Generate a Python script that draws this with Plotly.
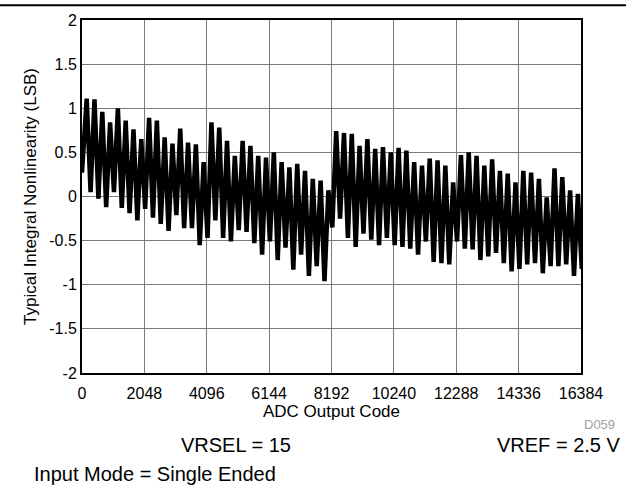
import plotly.graph_objects as go

# ADC output code ticks
tick_codes = [0, 2048, 4096, 6144, 8192, 10240, 12288, 14336, 16384]
inl_ticks = [-2, -1.5, -1, -0.5, 0, 0.5, 1, 1.5, 2]

# INL: one local max and one local min per 256-code cycle
start_code = 0
start_inl = 0.27

peak_inl = [
    1.11, 1.10, 0.96, 0.84, 1.00, 0.86, 0.76, 0.65, 0.89, 0.86, 0.67, 0.60,
    0.77, 0.61, 0.59, 0.39, 0.84, 0.78, 0.63, 0.46, 0.63,
    0.575, 0.46, 0.44, 0.50, 0.39, 0.33, 0.37, 0.29, 0.20, 0.18, 0.07,
    0.74, 0.72, 0.71, 0.575, 0.65, 0.54, 0.56, 0.50, 0.55, 0.52, 0.39,
    0.35, 0.43, 0.41, 0.35, 0.16, 0.47, 0.50, 0.46, 0.35, 0.42, 0.29,
    0.26, 0.16, 0.29, 0.27, 0.20, -0.01, 0.32, 0.22, 0.07, 0.03,
]

trough_inl = [
    0.05, -0.025, -0.12, 0.05, -0.13, -0.19, -0.27, -0.14, -0.24, -0.31, -0.39,
    -0.21, -0.36, -0.36, -0.55, -0.47, -0.27, -0.47, -0.51, -0.38, -0.40,
    -0.53, -0.66, -0.51, -0.72, -0.58, -0.83, -0.66, -0.90, -0.79, -0.96,
    -0.35,
    -0.25, -0.47, -0.57, -0.42, -0.49, -0.55, -0.47, -0.55, -0.57,
    -0.59, -0.66,
    -0.51, -0.74, -0.755, -0.77, -0.51, -0.59, -0.60, -0.72, -0.68, -0.64,
    -0.755, -0.85, -0.82, -0.77, -0.755, -0.87, -0.79, -0.79, -0.77, -0.90, -0.82,
]

codes = [start_code]
inl = [start_inl]
for k, (pv, tv) in enumerate(zip(peak_inl, trough_inl)):
    c = 154 + 256 * k
    codes += [c, c + 128]
    inl += [pv, tv]

fig = go.Figure()
fig.add_trace(go.Scatter(
    x=codes, y=inl, mode="lines",
    line=dict(color="black", width=4.5),
    showlegend=False,
))

axis_font = dict(family="Liberation Sans, Arial, sans-serif", size=16, color="black")

fig.update_xaxes(
    range=[0, 16384], tickvals=tick_codes, ticktext=[str(c) for c in tick_codes],
    showgrid=True, gridcolor="#7a7a7a", gridwidth=1,
    showline=True, linecolor="black", linewidth=2, mirror=True,
    ticks="outside", ticklen=5, tickcolor="rgba(0,0,0,0)",
    tickfont=axis_font, zeroline=False,
    title=dict(text="ADC Output Code", font=dict(axis_font, size=17), standoff=4),
)
fig.update_yaxes(
    range=[-2, 2], tickvals=inl_ticks, ticktext=[f"{v:g}" for v in inl_ticks],
    showgrid=True, gridcolor="#7a7a7a", gridwidth=1,
    showline=True, linecolor="black", linewidth=2, mirror=True,
    ticks="", tickfont=axis_font, zeroline=False,
    title=dict(text="Typical Integral Nonlinearity (LSB)", font=dict(axis_font, size=17), standoff=8),
)

note_font = dict(family="Liberation Sans, Arial, sans-serif", size=20, color="black")
fig.update_layout(
    width=626, height=489,
    margin=dict(l=82, r=45, t=17, b=116),
    plot_bgcolor="white", paper_bgcolor="white",
    shapes=[dict(type="line", xref="paper", yref="paper",
                 x0=-0.2, x1=1.2, y0=1.042, y1=1.042,
                 line=dict(color="black", width=2))],
    annotations=[
        dict(text="D059", xref="paper", yref="paper", x=1.072, y=-0.145,
             xanchor="right", yanchor="middle", showarrow=False,
             font=dict(family="Liberation Sans, Arial, sans-serif", size=13, color="#a0a0a0")),
        dict(text="VRSEL = 15", xref="paper", yref="paper", x=0.309, y=-0.205,
             xanchor="center", yanchor="middle", showarrow=False, font=note_font),
        dict(text="VREF = 2.5 V", xref="paper", yref="paper", x=1.082, y=-0.205,
             xanchor="right", yanchor="middle", showarrow=False, font=note_font),
        dict(text="Input Mode = Single Ended", xref="paper", yref="paper", x=-0.1, y=-0.285,
             xanchor="left", yanchor="middle", showarrow=False, font=note_font),
    ],
)

fig.write_html("out.html", config={"displayModeBar": False},
               post_script="document.body.style.margin='0px';")
